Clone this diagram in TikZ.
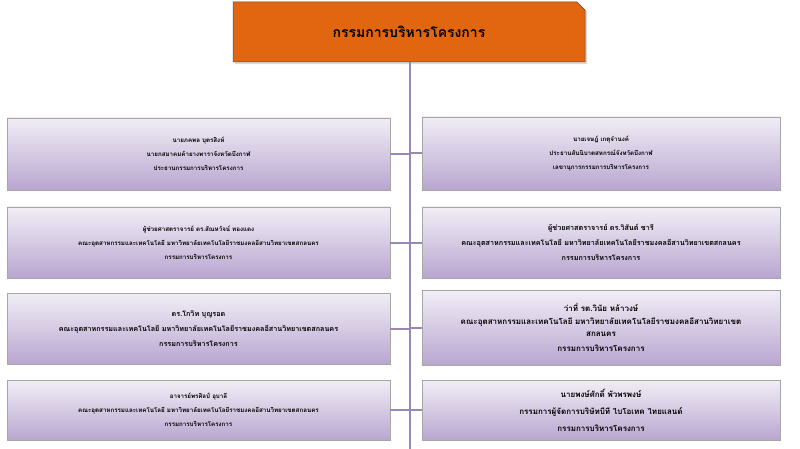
\documentclass[tikz,border=0pt]{standalone}
\usepackage{fontspec}
\newfontfamily\thaifont[Script=Thai]{Loma}
\usetikzlibrary{shadows}
\definecolor{boxtop}{HTML}{F1EEF6}
\definecolor{boxbot}{HTML}{B9A6D0}
\definecolor{orng}{HTML}{E2650F}
\definecolor{linec}{HTML}{9B86B6}
\tikzset{
 pbox/.style={draw=gray!70, line width=0.6pt, top color=boxtop, bottom color=boxbot, minimum height=#1, drop shadow={opacity=0.35,shadow xshift=1pt,shadow yshift=-1pt}, align=center, font=\thaifont\bfseries\fontsize{6.2}{14}\selectfont, inner sep=2pt},
 lbox/.style={pbox=#1, minimum width=383pt},
 rbox/.style={pbox=#1, minimum width=358pt},
 conn/.style={draw=linec, line width=2pt}
}
\begin{document}
\begin{tikzpicture}[x=1pt,y=-1pt]
\useasboundingbox (0,0) rectangle (800,449);
% title
\fill[orng, drop shadow={opacity=0.3}] (233,2) -- (577,2) -- (585,10) -- (585,62) -- (233,62) -- cycle;
\draw[gray!60!black, line width=0.5pt] (233,2) -- (577,2) -- (585,10) -- (585,62) -- (233,62) -- cycle;
\node (top) at (409,32) {\thaifont\bfseries\fontsize{14}{16}\selectfont กรรมการบริหารโครงการ};
\coordinate (tb) at (410,62);
\coordinate (bot) at (410,449);
\draw[conn] (tb) -- (bot);
% left
\node[lbox=72pt] (l1) at (198.5,154) {นายภคพล บุตรสิงห์\\นายกสมาคมค้ายางพาราจังหวัดบึงกาฬ\\ประธานกรรมการบริหารโครงการ};
\node[lbox=71pt] (l2) at (198.5,242.5) {ผู้ช่วยศาสตราจารย์ ดร.สัณหวัจน์ ทองแดง\\คณะอุตสาหกรรมและเทคโนโลยี มหาวิทยาลัยเทคโนโลยีราชมงคลอีสานวิทยาเขตสกลนคร\\กรรมการบริหารโครงการ};
\node[lbox=71pt, font=\thaifont\bfseries\fontsize{7.2}{15}\selectfont] (l3) at (198.5,328.5) {ดร.โกวิท บุญรอด\\คณะอุตสาหกรรมและเทคโนโลยี มหาวิทยาลัยเทคโนโลยีราชมงคลอีสานวิทยาเขตสกลนคร\\กรรมการบริหารโครงการ};
\node[lbox=60pt] (l4) at (198.5,410) {อาจารย์พรศิลป์ อุบาลี\\คณะอุตสาหกรรมและเทคโนโลยี มหาวิทยาลัยเทคโนโลยีราชมงคลอีสานวิทยาเขตสกลนคร\\กรรมการบริหารโครงการ};
% right
\node[rbox=73pt] (r1) at (601,153.5) {นายเจษฎ์ เกตุจำนงค์\\ประธานสันนิบาตสหกรณ์จังหวัดบึงกาฬ\\เลขานุการกรรมการบริหารโครงการ};
\node[rbox=71pt, font=\thaifont\bfseries\fontsize{7.2}{15}\selectfont] (r2) at (601,242.5) {ผู้ช่วยศาสตราจารย์ ดร.วิสันต์ ชารี\\คณะอุตสาหกรรมและเทคโนโลยี มหาวิทยาลัยเทคโนโลยีราชมงคลอีสานวิทยาเขตสกลนคร\\กรรมการบริหารโครงการ};
\node[rbox=75pt, font=\thaifont\bfseries\fontsize{8}{12.5}\selectfont] (r3) at (601,327.5) {ว่าที่ รต.วินัย หล้าวงษ์\\คณะอุตสาหกรรมและเทคโนโลยี มหาวิทยาลัยเทคโนโลยีราชมงคลอีสานวิทยาเขต\\สกลนคร\\[2pt]กรรมการบริหารโครงการ};
\node[rbox=60pt, font=\thaifont\bfseries\fontsize{8}{17}\selectfont] (r4) at (601,410) {นายพงษ์ศักดิ์ พัวพรพงษ์\\กรรมการผู้จัดการบริษัทบีที ไบโอเทค ไทยแลนด์\\กรรมการบริหารโครงการ};
\foreach \n in {l1,l2,l3,l4} \draw[conn] (\n.east) -- (\n.east -| tb);
\foreach \n in {r1,r2,r3,r4} \draw[conn] (\n.west) -- (\n.west -| tb);
\end{tikzpicture}
\end{document}
